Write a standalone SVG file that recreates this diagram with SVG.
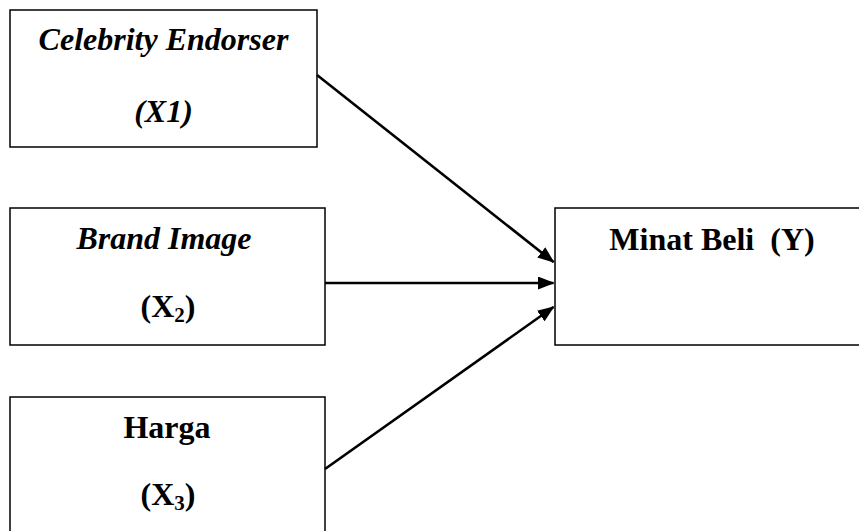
<svg xmlns="http://www.w3.org/2000/svg" width="859" height="531" viewBox="0 0 859 531">
<style>
.box{fill:#fff;stroke:#000;stroke-width:1.5}
.t{font-family:"Liberation Serif","Times New Roman",serif;font-size:32px;font-weight:bold;fill:#000;text-anchor:middle}
.i{font-style:italic}
.sub{font-size:21px}
.c{stroke:#000;stroke-width:2.6;fill:none;marker-end:url(#ah)}
</style>
<defs>
<marker id="ah" markerWidth="6.5" markerHeight="5" refX="6" refY="2.5" orient="auto" markerUnits="strokeWidth">
<path d="M0,0 L6.5,2.5 L0,5 Z" fill="#000"/>
</marker>
</defs>
<rect width="859" height="531" fill="#fff"/>
<g id="n1">
<rect class="box" x="10" y="10" width="307" height="137"/>
<text class="t i" x="163.5" y="50">Celebrity Endorser</text>
<text class="t i" x="163.5" y="122">(X1)</text>
</g>
<g id="n2">
<rect class="box" x="10" y="208" width="315" height="137"/>
<text class="t i" x="164" y="249">Brand Image</text>
<text class="t" x="168" y="317">(X<tspan class="sub" dy="5">2</tspan><tspan dy="-5">)</tspan></text>
</g>
<g id="n3">
<rect class="box" x="10" y="397" width="315" height="150"/>
<text class="t" x="167" y="438">Harga</text>
<text class="t" x="168" y="505">(X<tspan class="sub" dy="5">3</tspan><tspan dy="-5">)</tspan></text>
</g>
<g id="n4">
<rect class="box" x="555" y="208" width="320" height="137"/>
<text class="t" x="712" y="250" xml:space="preserve">Minat Beli  (Y)</text>
</g>
<g id="connectors">
<line class="c" x1="317" y1="75" x2="553.5" y2="262"/>
<line class="c" x1="325" y1="283" x2="553.5" y2="283"/>
<line class="c" x1="325" y1="469" x2="553.5" y2="307"/>
</g>
</svg>
